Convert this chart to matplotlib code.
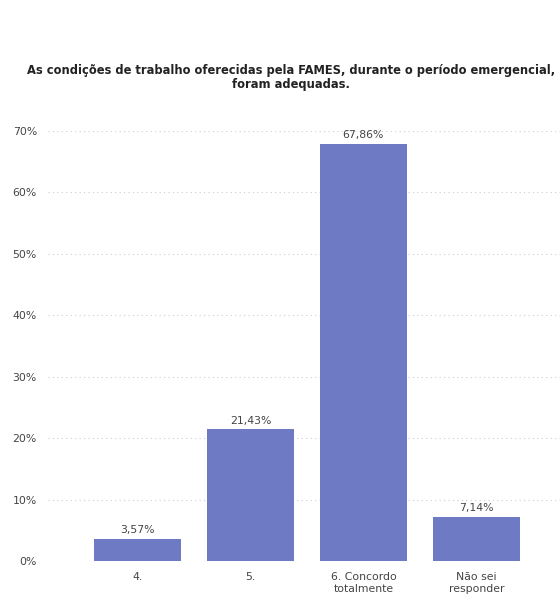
import matplotlib
matplotlib.use("Agg")
import matplotlib.pyplot as plt
from matplotlib.ticker import FuncFormatter

categories = ["4.", "5.", "6. Concordo\ntotalmente", "Não sei\nresponder"]
values = [3.57, 21.43, 67.86, 7.14]
yticks = [0, 10, 20, 30, 40, 50, 60, 70]

bar_color = "#6f7ac4"
text_color = "#444444"

fig = plt.figure(figsize=(5.6, 6.01), dpi=100)
ax = fig.add_axes([0.0857, 0.0666, 0.9143, 0.7155])

x = range(len(categories))
bars = ax.bar(x, values, width=0.77, color=bar_color, zorder=3)

for xi, v in zip(x, values):
    ax.text(xi, v + 0.6, f"{v:.2f}%".replace(".", ","), ha="center", va="bottom",
            fontsize=7.8, color=text_color)

ax.set_xlim(-0.792, 3.74)
ax.set_ylim(0, 70)
ax.set_yticks(yticks)
ax.yaxis.set_major_formatter(FuncFormatter(lambda v, _: f"{v:.0f}%"))
ax.set_xticks(list(x))
ax.set_xticklabels(categories)

ax.grid(axis="y", color="#cccccc", linestyle=(0, (1, 3)), linewidth=0.8, zorder=0)
ax.set_axisbelow(True)
for s in ax.spines.values():
    s.set_visible(False)
ax.tick_params(axis="both", length=0, labelsize=7.8, colors=text_color)
ax.tick_params(axis="y", pad=8)
ax.tick_params(axis="x", pad=8)

fig.text(0.52, 0.871,
         "As condições de trabalho oferecidas pela FAMES, durante o período emergencial,\nforam adequadas.",
         ha="center", va="center", fontsize=8.3, fontweight="bold", color="#222222",
         linespacing=1.15)

fig.savefig("out.png", dpi=100, facecolor="white")
